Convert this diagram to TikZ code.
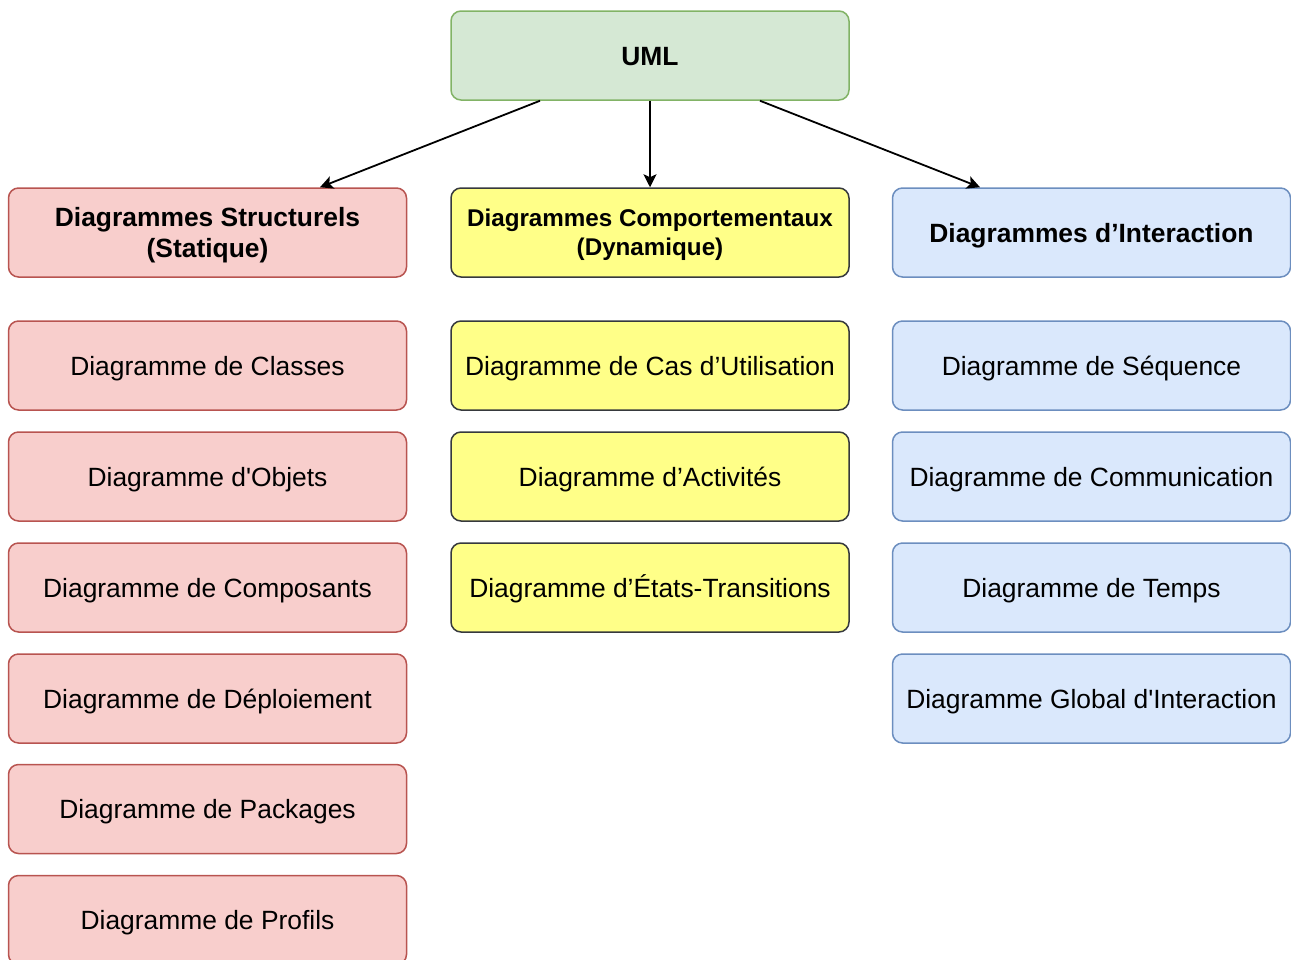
\documentclass[tikz,border=0pt]{standalone}
\usepackage{fontspec}
\setmainfont{Liberation Sans}
\usetikzlibrary{calc,arrows.meta}
\definecolor{greenfill}{HTML}{D5E8D4}
\definecolor{greenline}{HTML}{82B366}
\definecolor{redfill}{HTML}{F8CECC}
\definecolor{redline}{HTML}{B85450}
\definecolor{bluefill}{HTML}{DAE8FC}
\definecolor{blueline}{HTML}{6C8EBF}
\definecolor{yellowfill}{HTML}{FFFF88}
\definecolor{yellowline}{HTML}{36393D}
\tikzset{
  box/.style={draw, rounded corners=10pt, line width=1.5pt, minimum width=398pt,
    minimum height=89pt, inner sep=0pt, align=center, text depth=0pt,
    font=\fontsize{26.4}{31}\selectfont},
  oneline/.style={text height=19pt},
  head/.style={box, font=\fontsize{26.4}{31}\selectfont\bfseries},
  greenbox/.style={fill=greenfill, draw=greenline},
  redbox/.style={fill=redfill, draw=redline},
  bluebox/.style={fill=bluefill, draw=blueline},
  yellowbox/.style={fill=yellowfill, draw=yellowline},
  link/.style={-{Stealth[length=13pt,width=13pt,inset=3pt]}, line width=1.8pt, black}
}
\begin{document}
\begin{tikzpicture}[x=1pt,y=-1pt]
\useasboundingbox (0,0) rectangle (1291,959);
% top level
\node[head, oneline, greenbox] (uml) at (650,55.5) {UML};
% categories
\node[head, redbox] (struct) at (207.5,232.5) {Diagrammes Structurels\\(Statique)};
\node[head, yellowbox, font=\fontsize{24.2}{29}\selectfont\bfseries] (comport) at (650,232.5) {Diagrammes Comportementaux\\(Dynamique)};
\node[head, oneline, bluebox] (inter) at (1091.5,232.5) {Diagrammes d’Interaction};
% structural diagrams
\node[box, oneline, redbox] (s1) at (207.5,365.5) {Diagramme de Classes};
\node[box, oneline, redbox] (s2) at (207.5,476.5) {Diagramme d\textquotesingle Objets};
\node[box, oneline, redbox] (s3) at (207.5,587.5) {Diagramme de Composants};
\node[box, oneline, redbox] (s4) at (207.5,698.5) {Diagramme de Déploiement};
\node[box, oneline, redbox] (s5) at (207.5,809) {Diagramme de Packages};
\node[box, oneline, redbox] (s6) at (207.5,920) {Diagramme de Profils};
% behavioural diagrams
\node[box, oneline, yellowbox] (c1) at (650,365.5) {Diagramme de Cas d’Utilisation};
\node[box, oneline, yellowbox] (c2) at (650,476.5) {Diagramme d’Activités};
\node[box, oneline, yellowbox] (c3) at (650,587.5) {Diagramme d’États-Transitions};
% interaction diagrams
\node[box, oneline, bluebox] (i1) at (1091.5,365.5) {Diagramme de Séquence};
\node[box, oneline, bluebox] (i2) at (1091.5,476.5) {Diagramme de Communication};
\node[box, oneline, bluebox] (i3) at (1091.5,587.5) {Diagramme de Temps};
\node[box, oneline, bluebox] (i4) at (1091.5,698.5) {Diagramme Global d\textquotesingle Interaction};
% connectors
\draw[link] ($(uml.south)+(-110,0)$) -- ($(struct.north)+(112.5,0)$);
\draw[link] (uml.south) -- (comport.north);
\draw[link] ($(uml.south)+(110,0)$) -- ($(inter.north)+(-111.5,0)$);
\end{tikzpicture}
\end{document}
